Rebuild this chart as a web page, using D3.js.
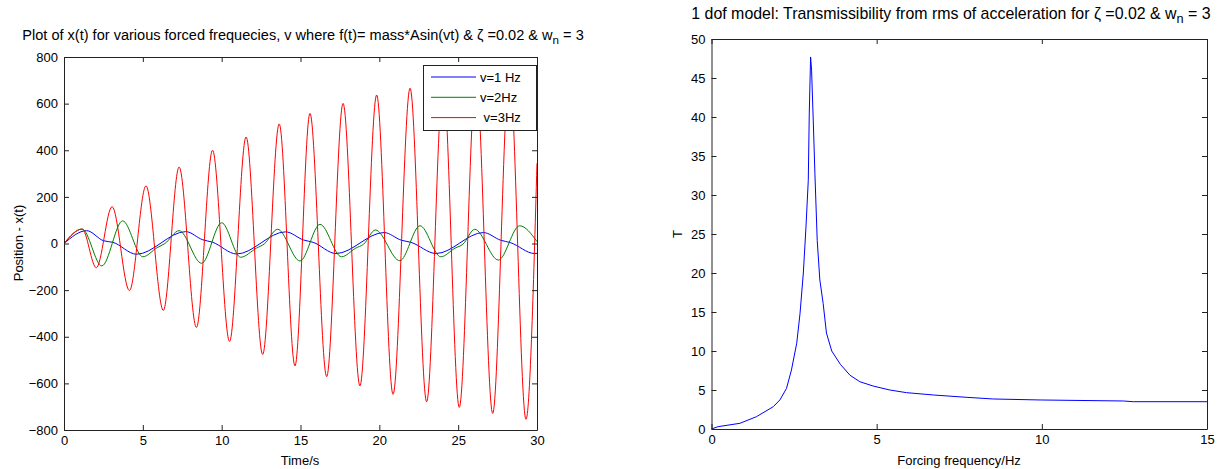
<!DOCTYPE html>
<html><head><meta charset="utf-8">
<script src="https://cdn.jsdelivr.net/npm/d3@7"></script>
<style>
body{margin:0;background:#fff;}
svg text{font-family:"Liberation Sans", Arial, Helvetica, sans-serif;fill:#000;}
</style></head><body>
<svg id="c" width="1220" height="469"></svg>
<script>
// ---------- data ----------
const tBlue = [0, 1.44, 2.5, 3.1, 4.6, 7.72, 8.8, 9.4, 10.95, 14.05, 15.2, 15.8, 17.25, 20.3, 21.4, 22.0, 23.6, 26.6, 27.7, 28.3, 29.85, 30];
const xBlue = [0, 55, 12, 5, -46, 51, 16, 6, -45, 50, 15, 5, -43, 47, 14, 5, -43, 47, 14, 4, -43, -42];

const tGreen = [0, 1.15, 2.4, 3.72, 5.0, 5.9, 6.4, 7.3, 8.73, 10.0, 11.2, 12.2, 12.7, 13.55, 14.97, 16.24, 17.6, 18.5, 19.0, 19.75, 21.3, 22.58, 23.9, 24.8, 25.3, 26.05, 27.55, 28.9, 30];
const xGreen = [0, 62, -96, 97, -57, -18, 0, 55, -85, 89, -59, -20, -2, 61, -75, 82, -57, -20, -3, 58, -74, 76, -57, -20, -3, 61, -71, 76, 8];

const tRed = [0, 1.15, 2.05, 3.05, 4.15, 5.2, 6.3, 7.3, 8.4, 9.42, 10.5, 11.55, 12.6, 13.65, 14.65, 15.6, 16.66, 17.7, 18.77, 19.83, 20.87, 21.95, 23.0, 24.05, 25.07, 26.13, 27.19, 28.25, 29.3, 30];
const xRed = [0, 62, -104, 158, -202, 247, -287, 328, -360, 400, -420, 457, -476, 513, -525, 558, -571, 601, -611, 637, -647, 666, -679, 695, -703, 718, -729, 740, -754, 344];

const legendLabels = ["v=1 Hz", "v=2Hz", " v=3Hz"];

const freqHz = [0, 0.2, 0.86, 1.36, 1.87, 2.07, 2.27, 2.42, 2.58, 2.68, 2.78, 2.86, 2.93, 2.96, 3.0, 3.03, 3.08, 3.13, 3.2, 3.28, 3.38, 3.48, 3.64, 3.9, 4.19, 4.49, 4.9, 5.4, 5.9, 6.72, 7.73, 8.53, 9.95, 12.47, 12.77, 15];
const transT = [0, 0.3, 0.73, 1.58, 2.86, 3.72, 5.2, 7.56, 11.0, 14.8, 20.0, 25.9, 31.9, 40.5, 47.7, 46.0, 39.6, 32.8, 24.2, 19.1, 16.1, 12.3, 10.0, 8.3, 6.9, 6.06, 5.5, 5.0, 4.66, 4.36, 4.06, 3.85, 3.72, 3.59, 3.5, 3.5];

const xTicksL = [0, 5, 10, 15, 20, 25, 30];
const yTicksL = [-800, -600, -400, -200, 0, 200, 400, 600, 800];
const xTicksR = [0, 5, 10, 15];
const yTicksR = [0, 5, 10, 15, 20, 25, 30, 35, 40, 45, 50];

// ---------- styles ----------
const colors = ["#0000ff", "#008000", "#ff0000"];
const FS = 13;

const svg = d3.select("#c");

const xL = d3.scaleLinear().domain([0, 30]).range([64, 537]);
const yL = d3.scaleLinear().domain([-800, 800]).range([430, 57]);
const xR = d3.scaleLinear().domain([0, 15]).range([711.5, 1207]);
const yR = d3.scaleLinear().domain([0, 50]).range([429, 39]);

function frame(x, y, xt, yt) {
  const [x0, x1] = x.range(), [y0, y1] = y.range();
  const g = svg.append("g");
  g.append("g").attr("transform", `translate(0,${y0})`)
    .call(d3.axisBottom(x).tickValues(xt).tickSizeInner(-5).tickSizeOuter(0).tickPadding(6).tickFormat(d3.format("d")));
  g.append("g").attr("transform", `translate(0,${y1})`)
    .call(d3.axisTop(x).tickValues(xt).tickSizeInner(-5).tickSizeOuter(0).tickFormat(""));
  g.append("g").attr("transform", `translate(${x0},0)`)
    .call(d3.axisLeft(y).tickValues(yt).tickSizeInner(-5).tickSizeOuter(0).tickPadding(6).tickFormat(d3.format("d")));
  g.append("g").attr("transform", `translate(${x1},0)`)
    .call(d3.axisRight(y).tickValues(yt).tickSizeInner(-5).tickSizeOuter(0).tickFormat(""));
  g.selectAll(".domain").attr("stroke", "#222").attr("stroke-width", 1);
  g.selectAll(".tick line").attr("stroke", "#222");
  g.selectAll(".tick text").attr("font-size", FS).attr("font-family", null).style("fill", "#000");
  return g;
}

// ---------- left panel ----------
const lineL = d3.line().curve(d3.curveMonotoneX);
const seriesL = [[tBlue, xBlue], [tGreen, xGreen], [tRed, xRed]];
svg.append("clipPath").attr("id", "clipL").append("rect")
  .attr("x", 64).attr("y", 57).attr("width", 473).attr("height", 373);
seriesL.forEach(([t, v], i) => {
  svg.append("path")
    .attr("d", lineL(t.map((d, j) => [xL(d), yL(v[j])])))
    .attr("fill", "none").attr("stroke", colors[i]).attr("stroke-width", 1)
    .attr("clip-path", "url(#clipL)");
});
frame(xL, yL, xTicksL, yTicksL);

// legend
const lg = svg.append("g");
lg.append("rect").attr("x", 423.5).attr("y", 65.5).attr("width", 113).attr("height", 65)
  .attr("fill", "#fff").attr("stroke", "#222");
legendLabels.forEach((lab, i) => {
  const yy = 77 + i * 20.3;
  lg.append("line").attr("x1", 431).attr("x2", 476).attr("y1", yy).attr("y2", yy)
    .attr("stroke", colors[i]).attr("stroke-width", 1);
  lg.append("text").attr("x", 480).attr("y", yy + 4.5).attr("font-size", FS)
    .style("white-space", "pre").attr("xml:space", "preserve").text(lab);
});

// titles & labels
function subTitle(cx, y, pre, sub, post, targetW) {
  const t = svg.append("text").attr("x", cx).attr("y", y).attr("text-anchor", "middle").attr("font-size", 12);
  t.append("tspan").text(pre);
  t.append("tspan").attr("dy", 4).attr("font-size", 10).text(sub);
  t.append("tspan").attr("dy", -4).text(post);
  const w = t.node().getComputedTextLength();
  if (w > 0 && targetW) t.attr("font-size", 12 * targetW / w);
  t.selectAll("tspan").filter((d, i) => i === 1).attr("font-size", null).style("font-size", "0.8em");
  return t;
}
subTitle(303, 40, "Plot of x(t) for various forced frequecies, v where f(t)= mass*Asin(vt) & \u03B6 =0.02 & w", "n", " = 3", 562);
subTitle(951, 19, "1 dof model: Transmissibility from rms of acceleration for \u03B6 =0.02 & w", "n", " = 3", 520);

svg.append("text").attr("x", 300).attr("y", 465).attr("text-anchor", "middle").attr("font-size", FS).text("Time/s");
svg.append("text").attr("transform", "translate(23,243) rotate(-90)").attr("text-anchor", "middle").attr("font-size", FS).text("Position - x(t)");

// ---------- right panel ----------
const lineR = d3.line();
svg.append("path")
  .attr("d", lineR(freqHz.map((f, j) => [xR(f), yR(transT[j])])))
  .attr("fill", "none").attr("stroke", colors[0]).attr("stroke-width", 1);
frame(xR, yR, xTicksR, yTicksR);
svg.append("text").attr("x", 959).attr("y", 465).attr("text-anchor", "middle").attr("font-size", FS).text("Forcing frequency/Hz");
svg.append("text").attr("transform", "translate(682,234) rotate(-90)").attr("text-anchor", "middle").attr("font-size", FS).text("T");
</script>
</body></html>
